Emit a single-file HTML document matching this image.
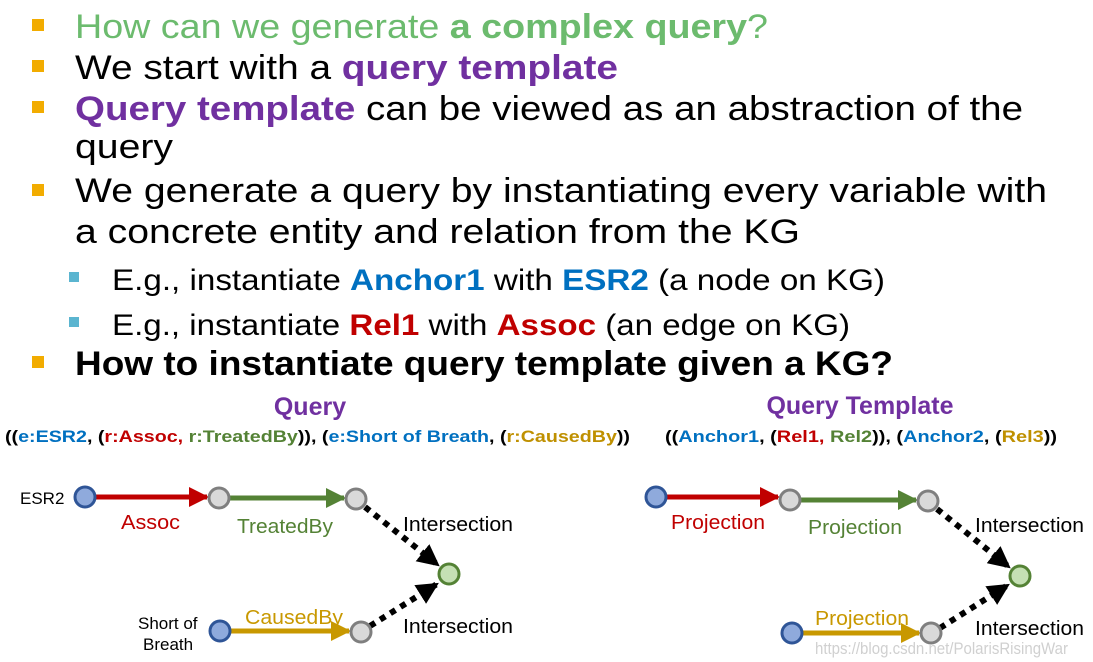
<!DOCTYPE html>
<html><head><meta charset="utf-8"><style>
html,body{margin:0;padding:0;background:#fff;}
svg{display:block;font-family:"Liberation Sans",sans-serif;}
.m{font-size:34px;}
.s{font-size:30px;}
.f{font-size:17px;font-weight:bold;}
.g{font-size:20px;}
</style></head><body>
<svg width="1093" height="662" viewBox="0 0 1093 662">
<defs>
<marker id="ar" viewBox="0 0 10 10" refX="9" refY="5" markerWidth="4" markerHeight="4" orient="auto" markerUnits="strokeWidth"><path d="M0,0L10,5L0,10z" fill="context-stroke"/></marker>
<marker id="ar2" viewBox="0 0 10 10" refX="9" refY="5" markerWidth="22" markerHeight="22" orient="auto" markerUnits="userSpaceOnUse"><path d="M0,0L10,5L0,10z" fill="#000"/></marker>
</defs>
<g fill="#f2ac00">
<rect x="32" y="19" width="12" height="12"/>
<rect x="32" y="60" width="12" height="12"/>
<rect x="32" y="101" width="12" height="12"/>
<rect x="32" y="184" width="12" height="12"/>
<rect x="32" y="356" width="12" height="12"/>
</g>
<g fill="#5bb5d0">
<rect x="69" y="272" width="10" height="10"/>
<rect x="69" y="317" width="10" height="10"/>
</g>
<text class="m" x="75" y="38" fill="#6cbb6e" textLength="693" lengthAdjust="spacingAndGlyphs">How can we generate <tspan font-weight="bold">a complex query</tspan>?</text>
<text class="m" x="75" y="79" fill="#000" textLength="543" lengthAdjust="spacingAndGlyphs">We start with a <tspan font-weight="bold" fill="#7030a0">query template</tspan></text>
<text class="m" x="75" y="120" fill="#000" textLength="948" lengthAdjust="spacingAndGlyphs"><tspan font-weight="bold" fill="#7030a0">Query template</tspan> can be viewed as an abstraction of the</text>
<text class="m" x="75" y="158" fill="#000" textLength="98" lengthAdjust="spacingAndGlyphs">query</text>
<text class="m" x="75" y="202" fill="#000" textLength="972" lengthAdjust="spacingAndGlyphs">We generate a query by instantiating every variable with</text>
<text class="m" x="75" y="243" fill="#000" textLength="725" lengthAdjust="spacingAndGlyphs">a concrete entity and relation from the KG</text>
<text class="s" x="112" y="290" fill="#000" textLength="773" lengthAdjust="spacingAndGlyphs">E.g., instantiate <tspan font-weight="bold" fill="#0070c0">Anchor1</tspan> with <tspan font-weight="bold" fill="#0070c0">ESR2</tspan> (a node on KG)</text>
<text class="s" x="112" y="335" fill="#000" textLength="738" lengthAdjust="spacingAndGlyphs">E.g., instantiate <tspan font-weight="bold" fill="#c00000">Rel1</tspan> with <tspan font-weight="bold" fill="#c00000">Assoc</tspan> (an edge on KG)</text>
<text class="m" x="75" y="375" fill="#000" font-weight="bold" textLength="818" lengthAdjust="spacingAndGlyphs">How to instantiate query template given a KG?</text>

<text x="310" y="415" text-anchor="middle" font-size="25" font-weight="bold" fill="#7030a0">Query</text>
<text x="860" y="414" text-anchor="middle" font-size="25" font-weight="bold" fill="#7030a0">Query Template</text>
<text class="f" x="5" y="442" textLength="625" lengthAdjust="spacingAndGlyphs">((<tspan fill="#0070c0">e:ESR2</tspan>, (<tspan fill="#c00000">r:Assoc,</tspan> <tspan fill="#548235">r:TreatedBy</tspan>)), (<tspan fill="#0070c0">e:Short of Breath</tspan>, (<tspan fill="#bf9000">r:CausedBy</tspan>))</text>
<text class="f" x="665" y="442" textLength="392" lengthAdjust="spacingAndGlyphs">((<tspan fill="#0070c0">Anchor1</tspan>, (<tspan fill="#c00000">Rel1,</tspan> <tspan fill="#548235">Rel2</tspan>)), (<tspan fill="#0070c0">Anchor2</tspan>, (<tspan fill="#bf9000">Rel3</tspan>))</text>

<g stroke-width="5" fill="none">
<line x1="95" y1="497" x2="207" y2="497" stroke="#c00000" marker-end="url(#ar)"/>
<line x1="229" y1="498" x2="344" y2="498" stroke="#548235" marker-end="url(#ar)"/>
<line x1="230" y1="631" x2="349" y2="631" stroke="#c89800" marker-end="url(#ar)"/>
<line x1="365" y1="507" x2="438" y2="565" stroke="#000" stroke-width="6" stroke-dasharray="6,6" marker-end="url(#ar2)"/>
<line x1="370" y1="626" x2="437" y2="584" stroke="#000" stroke-width="6" stroke-dasharray="6,6" marker-end="url(#ar2)"/>

<line x1="665" y1="497" x2="778" y2="497" stroke="#c00000" marker-end="url(#ar)"/>
<line x1="800" y1="500" x2="916" y2="500" stroke="#548235" marker-end="url(#ar)"/>
<line x1="802" y1="633" x2="919" y2="633" stroke="#c89800" marker-end="url(#ar)"/>
<line x1="937" y1="509" x2="1009" y2="567" stroke="#000" stroke-width="6" stroke-dasharray="6,6" marker-end="url(#ar2)"/>
<line x1="940" y1="628" x2="1008" y2="585" stroke="#000" stroke-width="6" stroke-dasharray="6,6" marker-end="url(#ar2)"/>
</g>
<g stroke-width="3">
<circle cx="85" cy="497" r="10" fill="#8faadc" stroke="#2f5597"/>
<circle cx="219" cy="498" r="10" fill="#d9d9d9" stroke="#7f7f7f"/>
<circle cx="356" cy="499" r="10" fill="#d9d9d9" stroke="#7f7f7f"/>
<circle cx="449" cy="574" r="10" fill="#c5e0b4" stroke="#548235"/>
<circle cx="220" cy="631" r="10" fill="#8faadc" stroke="#2f5597"/>
<circle cx="361" cy="632" r="10" fill="#d9d9d9" stroke="#7f7f7f"/>

<circle cx="656" cy="497" r="10" fill="#8faadc" stroke="#2f5597"/>
<circle cx="790" cy="500" r="10" fill="#d9d9d9" stroke="#7f7f7f"/>
<circle cx="928" cy="501" r="10" fill="#d9d9d9" stroke="#7f7f7f"/>
<circle cx="1020" cy="576" r="10" fill="#c5e0b4" stroke="#548235"/>
<circle cx="792" cy="633" r="10" fill="#8faadc" stroke="#2f5597"/>
<circle cx="931" cy="633" r="10" fill="#d9d9d9" stroke="#7f7f7f"/>
</g>
<g class="g">
<text x="20" y="504" fill="#000" font-size="17">ESR2</text>
<text x="121" y="529" fill="#c00000" textLength="59" lengthAdjust="spacingAndGlyphs">Assoc</text>
<text x="237" y="533" fill="#548235" textLength="96" lengthAdjust="spacingAndGlyphs">TreatedBy</text>
<text x="403" y="531" fill="#000" textLength="110" lengthAdjust="spacingAndGlyphs">Intersection</text>
<text x="403" y="633" fill="#000" textLength="110" lengthAdjust="spacingAndGlyphs">Intersection</text>
<text x="245" y="624" fill="#c89800" textLength="98" lengthAdjust="spacingAndGlyphs">CausedBy</text>
<text x="138" y="629" fill="#000" font-size="17">Short of</text>
<text x="143" y="650" fill="#000" font-size="17">Breath</text>

<text x="671" y="529" fill="#c00000" textLength="94" lengthAdjust="spacingAndGlyphs">Projection</text>
<text x="808" y="534" fill="#548235" textLength="94" lengthAdjust="spacingAndGlyphs">Projection</text>
<text x="815" y="625" fill="#c89800" textLength="94" lengthAdjust="spacingAndGlyphs">Projection</text>
<text x="975" y="532" fill="#000" textLength="109" lengthAdjust="spacingAndGlyphs">Intersection</text>
<text x="975" y="635" fill="#000" textLength="109" lengthAdjust="spacingAndGlyphs">Intersection</text>
<text x="815" y="654" fill="#d0d0d0" font-size="17" textLength="253" lengthAdjust="spacingAndGlyphs">https://blog.csdn.net/PolarisRisingWar</text>
</g>
</svg>
</body></html>
